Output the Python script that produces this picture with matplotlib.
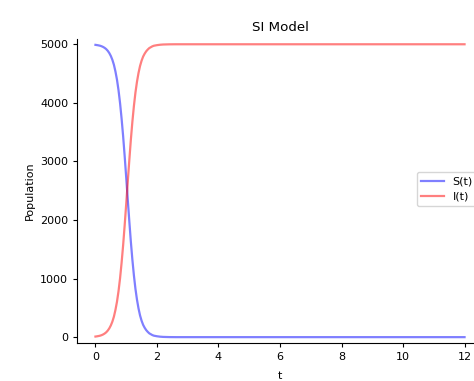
import matplotlib
matplotlib.use("Agg")
import matplotlib.pyplot as plt

# time points (days) and compartment sizes for the SI run, N = 5000
t = [0.0, 0.05, 0.1, 0.15, 0.2, 0.25, 0.3, 0.35, 0.4, 0.45,
     0.5, 0.55, 0.6, 0.65, 0.7, 0.75, 0.8, 0.85, 0.9, 0.95,
     1.0, 1.05, 1.1, 1.15, 1.2, 1.25, 1.3, 1.35, 1.4, 1.45,
     1.5, 1.55, 1.6, 1.65, 1.7, 1.75, 1.8, 1.85, 1.9, 1.95,
     2.0, 2.1, 2.2, 2.4, 2.6,
     3.0, 4.0, 5.0, 6.0, 7.0, 8.0, 9.0, 10.0, 11.0, 12.0]
infected = [10, 14, 19, 25, 34, 46, 62, 83, 112, 150,
            200, 265, 350, 465, 605, 785, 1005, 1270, 1570, 1910,
            2275, 2650, 3015, 3365, 3675, 3945, 4175, 4360, 4510, 4630,
            4720, 4790, 4840, 4880, 4910, 4935, 4950, 4965, 4975, 4980,
            4985, 4992, 4996, 4999, 5000,
            5000, 5000, 5000, 5000, 5000, 5000, 5000, 5000, 5000, 5000]
susceptible = [4990, 4986, 4981, 4975, 4966, 4954, 4938, 4917, 4888, 4850,
               4800, 4735, 4650, 4535, 4395, 4215, 3995, 3730, 3430, 3090,
               2725, 2350, 1985, 1635, 1325, 1055, 825, 640, 490, 370,
               280, 210, 160, 120, 90, 65, 50, 35, 25, 20,
               15, 8, 4, 1, 0,
               0, 0, 0, 0, 0, 0, 0, 0, 0, 0]

x_ticks = [0, 2, 4, 6, 8, 10, 12]
y_ticks = [0, 1000, 2000, 3000, 4000, 5000]

fig = plt.figure(figsize=(4.74, 3.81), dpi=100)
ax = fig.add_axes([77 / 474, 38 / 381, 406 / 474, 304 / 381])

ax.plot(t, susceptible, color="b", alpha=0.5, lw=1.6, label="S(t)")
ax.plot(t, infected, color="r", alpha=0.5, lw=1.6, label="I(t)")

ax.set_xlim(-0.6, 12.6)
ax.set_ylim(-100, 5090)
ax.set_xticks(x_ticks)
ax.set_yticks(y_ticks)
ax.tick_params(labelsize=8, length=2.8, width=0.8)
ax.set_xlabel("t", fontsize=8, labelpad=7)
ax.set_ylabel("Population", fontsize=8)
ax.set_title("SI Model", fontsize=9.6)

for side in ("top", "right"):
    ax.spines[side].set_visible(False)

ax.legend(loc="upper left", bbox_to_anchor=(417 / 474, 1 - 172 / 381),
          bbox_transform=fig.transFigure, borderaxespad=0, fontsize=8)

fig.savefig("out.png", dpi=100)
